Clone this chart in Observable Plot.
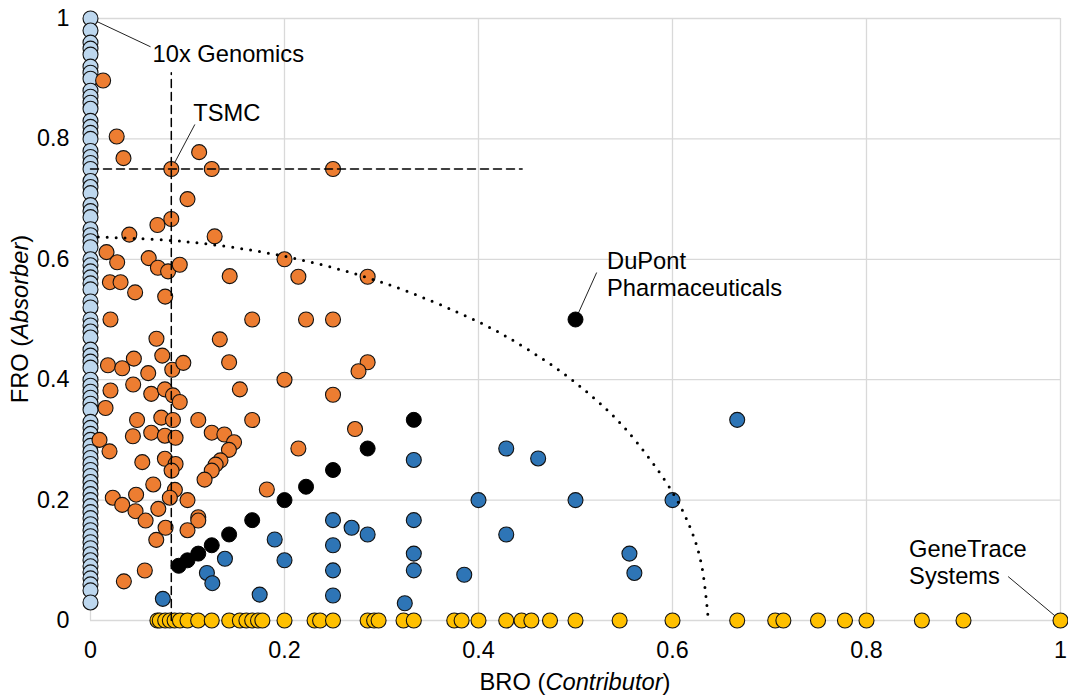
<!DOCTYPE html>
<html><head><meta charset="utf-8">
<script src="https://cdn.jsdelivr.net/npm/d3@7"></script>
<script src="https://cdn.jsdelivr.net/npm/@observablehq/plot@0.6"></script>
<style>
html,body{margin:0;padding:0;background:#fff;}
#chart svg{display:block;}
</style></head><body><div id="chart"></div>
<script>
// ---- data ----
const ticks = [0, 0.2, 0.4, 0.6, 0.8, 1];

// FRO values of organisations with BRO = 0 (light blue)
const pureAbsorberFRO = [1, 0.98, 0.96, 0.95, 0.94, 0.92, 0.91, 0.9, 0.88, 0.87, 0.86, 0.85, 0.83, 0.82, 0.81, 0.8, 0.78, 0.77, 0.76, 0.75, 0.73, 0.72, 0.71, 0.69, 0.68, 0.67, 0.65, 0.64, 0.63, 0.62, 0.6, 0.59, 0.58, 0.57, 0.56, 0.55, 0.53, 0.52, 0.5, 0.49, 0.48, 0.47, 0.45, 0.44, 0.43, 0.42, 0.4, 0.39, 0.38, 0.37, 0.36, 0.35, 0.33, 0.32, 0.31, 0.3, 0.29, 0.28, 0.27, 0.26, 0.25, 0.24, 0.23, 0.22, 0.21, 0.2, 0.19, 0.18, 0.17, 0.16, 0.15, 0.14, 0.13, 0.12, 0.11, 0.1, 0.09, 0.08, 0.07, 0.06, 0.05, 0.03];

// [BRO, FRO] absorbers (orange)
const absorbers = [[0.013,0.897],[0.027,0.804],[0.034,0.768],[0.0833,0.75],[0.112,0.778],[0.125,0.75],[0.25,0.75],[0.1,0.7],[0.0833,0.667],[0.069,0.657],[0.04,0.641],[0.128,0.638],[0.0165,0.612],[0.0275,0.595],[0.06,0.602],[0.0695,0.586],[0.08,0.58],[0.092,0.591],[0.1435,0.572],[0.2,0.6],[0.2143,0.571],[0.2857,0.571],[0.02,0.562],[0.031,0.562],[0.046,0.545],[0.077,0.538],[0.0206,0.5],[0.1667,0.5],[0.2222,0.5],[0.25,0.5],[0.068,0.468],[0.1333,0.467],[0.0447,0.435],[0.074,0.44],[0.1429,0.429],[0.018,0.424],[0.0327,0.419],[0.0595,0.411],[0.0843,0.4165],[0.0957,0.428],[0.2857,0.429],[0.2763,0.414],[0.2,0.4],[0.0206,0.382],[0.044,0.392],[0.0626,0.3765],[0.0767,0.384],[0.085,0.374],[0.092,0.363],[0.154,0.384],[0.25,0.375],[0.0155,0.353],[0.048,0.333],[0.073,0.337],[0.085,0.333],[0.1111,0.333],[0.1667,0.333],[0.2727,0.318],[0.0093,0.3],[0.0196,0.281],[0.0437,0.306],[0.0626,0.312],[0.0767,0.307],[0.0877,0.3035],[0.125,0.312],[0.138,0.309],[0.148,0.296],[0.1427,0.2835],[0.2143,0.2857],[0.134,0.266],[0.129,0.259],[0.125,0.249],[0.1176,0.234],[0.0534,0.263],[0.0767,0.2686],[0.0877,0.26],[0.0836,0.249],[0.0647,0.226],[0.087,0.217],[0.0818,0.204],[0.1,0.2],[0.1818,0.2176],[0.023,0.204],[0.0327,0.192],[0.047,0.209],[0.0464,0.1816],[0.0699,0.1855],[0.0568,0.166],[0.1111,0.1716],[0.1111,0.166],[0.0774,0.154],[0.1,0.15],[0.0678,0.134],[0.056,0.083],[0.0344,0.065]];

// [BRO, FRO] balanced (black)
const balanced = [[0.0909,0.0909],[0.1,0.1],[0.1111,0.1111],[0.125,0.125],[0.1429,0.1429],[0.1667,0.1667],[0.2,0.2],[0.2222,0.2222],[0.25,0.25],[0.2857,0.2857],[0.3333,0.3333],[0.5,0.5]];

// [BRO, FRO] contributors (blue)
const contributors = [[0.0746,0.036],[0.1386,0.1025],[0.12,0.079],[0.1256,0.062],[0.1744,0.043],[0.1899,0.1346],[0.2,0.1],[0.25,0.1667],[0.25,0.125],[0.25,0.0833],[0.25,0.0415],[0.2692,0.154],[0.2857,0.1429],[0.3333,0.2667],[0.3333,0.1667],[0.3333,0.1111],[0.3333,0.0833],[0.324,0.0287],[0.3853,0.076],[0.4,0.2],[0.4286,0.2857],[0.4286,0.1429],[0.4615,0.2692],[0.5,0.2],[0.5556,0.1111],[0.5607,0.079],[0.6,0.2],[0.6667,0.3333]];

// BRO values of organisations with FRO = 0 (yellow)
const pureContributorBRO = [0.069, 0.0714, 0.077, 0.0818, 0.0867, 0.0922, 0.1, 0.111, 0.125, 0.143, 0.154, 0.1607, 0.1667, 0.1727, 0.1772, 0.2, 0.231, 0.2367, 0.25, 0.2857, 0.2924, 0.297, 0.3227, 0.3333, 0.375, 0.3826, 0.4, 0.4286, 0.4444, 0.4545, 0.4737, 0.5, 0.5455, 0.6, 0.6667, 0.7059, 0.7143, 0.75, 0.7778, 0.8, 0.8571, 0.9, 1];

// reference lines (TSMC cross-hairs) and dotted boundary
const vDashed = [[0.0833, 0], [0.0833, 0.91]];
const hDashed = [[0, 0.75], [0.445, 0.75]];
const boundary = [[0.008,0.637],[0.1,0.629],[0.2,0.605],[0.3,0.562],[0.4,0.496],[0.45,0.451],[0.5,0.395],[0.55,0.321],[0.6,0.213],[0.62,0.147],[0.63,0.092],[0.6365,0.008]];

// annotations: label, text anchor (x,y), leader line (x1,y1)->(x2,y2)
const labels = [
  {text: "10x Genomics", x: 0.064, y: 0.961, x1: 0, y1: 1, x2: 0.0619, y2: 0.953},
  {text: "TSMC", x: 0.106, y: 0.863, x1: 0.0833, y1: 0.75, x2: 0.1076, y2: 0.824},
  {text: "DuPont\nPharmaceuticals", x: 0.5325, y: 0.617, x1: 0.5, y1: 0.5, x2: 0.5218, y2: 0.578},
  {text: "GeneTrace\nSystems", x: 0.8439, y: 0.139, x1: 1, y1: 0, x2: 0.946, y2: 0.073}
];

const xLabel = ["BRO (", "Contributor", ")"];
const yLabel = ["FRO (", "Absorber", ")"];

// ---- chart ----
const font = "Liberation Sans, Arial, sans-serif";
const dotStyle = {r: 7.5, stroke: "#111", strokeWidth: 1.1};
const plot = Plot.plot({
  width: 1068, height: 696,
  marginLeft: 90, marginRight: 8, marginTop: 18, marginBottom: 76,
  x: {domain: [0, 1]},
  y: {domain: [0, 1]},
  style: {fontFamily: font, fontSize: "23px", color: "#000", background: "#fff"},
  marks: [
    Plot.gridX(ticks, {stroke: "#d9d9d9", strokeOpacity: 1, strokeWidth: 1.3}),
    Plot.gridY(ticks, {stroke: "#d9d9d9", strokeOpacity: 1, strokeWidth: 1.3}),
    Plot.axisX(ticks, {tickSize: 0, tickPadding: 21, fontSize: 23.3, label: null, tickFormat: d => String(d)}),
    Plot.axisY(ticks, {tickSize: 0, tickPadding: 21, fontSize: 23.3, label: null, tickFormat: d => String(d)}),
    Plot.link(labels, {x1: "x1", y1: "y1", x2: "x2", y2: "y2", stroke: "#222", strokeWidth: 1}),
    Plot.dot(pureAbsorberFRO, {x: () => 0, y: d => d, fill: "#BDD7EE", ...dotStyle}),
    Plot.dot(absorbers, {x: d => d[0], y: d => d[1], fill: "#ED7D31", ...dotStyle}),
    Plot.dot(contributors, {x: d => d[0], y: d => d[1], fill: "#2E75B6", ...dotStyle}),
    Plot.dot(balanced, {x: d => d[0], y: d => d[1], fill: "#000", r: 7.5, stroke: "#000", strokeWidth: 1}),
    Plot.dot(pureContributorBRO, {x: d => d, y: () => 0, fill: "#FFC000", ...dotStyle}),
    Plot.line(vDashed, {x: d => d[0], y: d => d[1], stroke: "#000", strokeWidth: 1.5, strokeDasharray: "8,5"}),
    Plot.line(hDashed, {x: d => d[0], y: d => d[1], stroke: "#000", strokeWidth: 1.5, strokeDasharray: "8,5"}),
    Plot.line(boundary, {x: d => d[0], y: d => d[1], curve: "catmull-rom", stroke: "#000", strokeWidth: 3, strokeDasharray: "0,9", strokeLinecap: "round"}),
    Plot.text(labels, {x: "x", y: "y", text: "text", textAnchor: "start", lineAnchor: "top", lineHeight: 1.17, fontSize: 23.7, fill: "#000"})
  ]
});
document.getElementById("chart").appendChild(plot);

// axis titles with italic part
const svg = d3.select(plot);
const xr = plot.scale("x").range, yr = plot.scale("y").range;
function addLabel(parts, transform) {
  const t = svg.append("text").attr("transform", transform)
    .attr("text-anchor", "middle").attr("font-family", font).attr("font-size", 23.7).attr("fill", "#000");
  parts.forEach((p, i) => t.append("tspan").text(p).attr("font-style", i === 1 ? "italic" : "normal"));
}
addLabel(xLabel, `translate(${(xr[0] + xr[1]) / 2},${690})`);
addLabel(yLabel, `translate(${28},${(yr[0] + yr[1]) / 2}) rotate(-90)`);
</script>
</body></html>
